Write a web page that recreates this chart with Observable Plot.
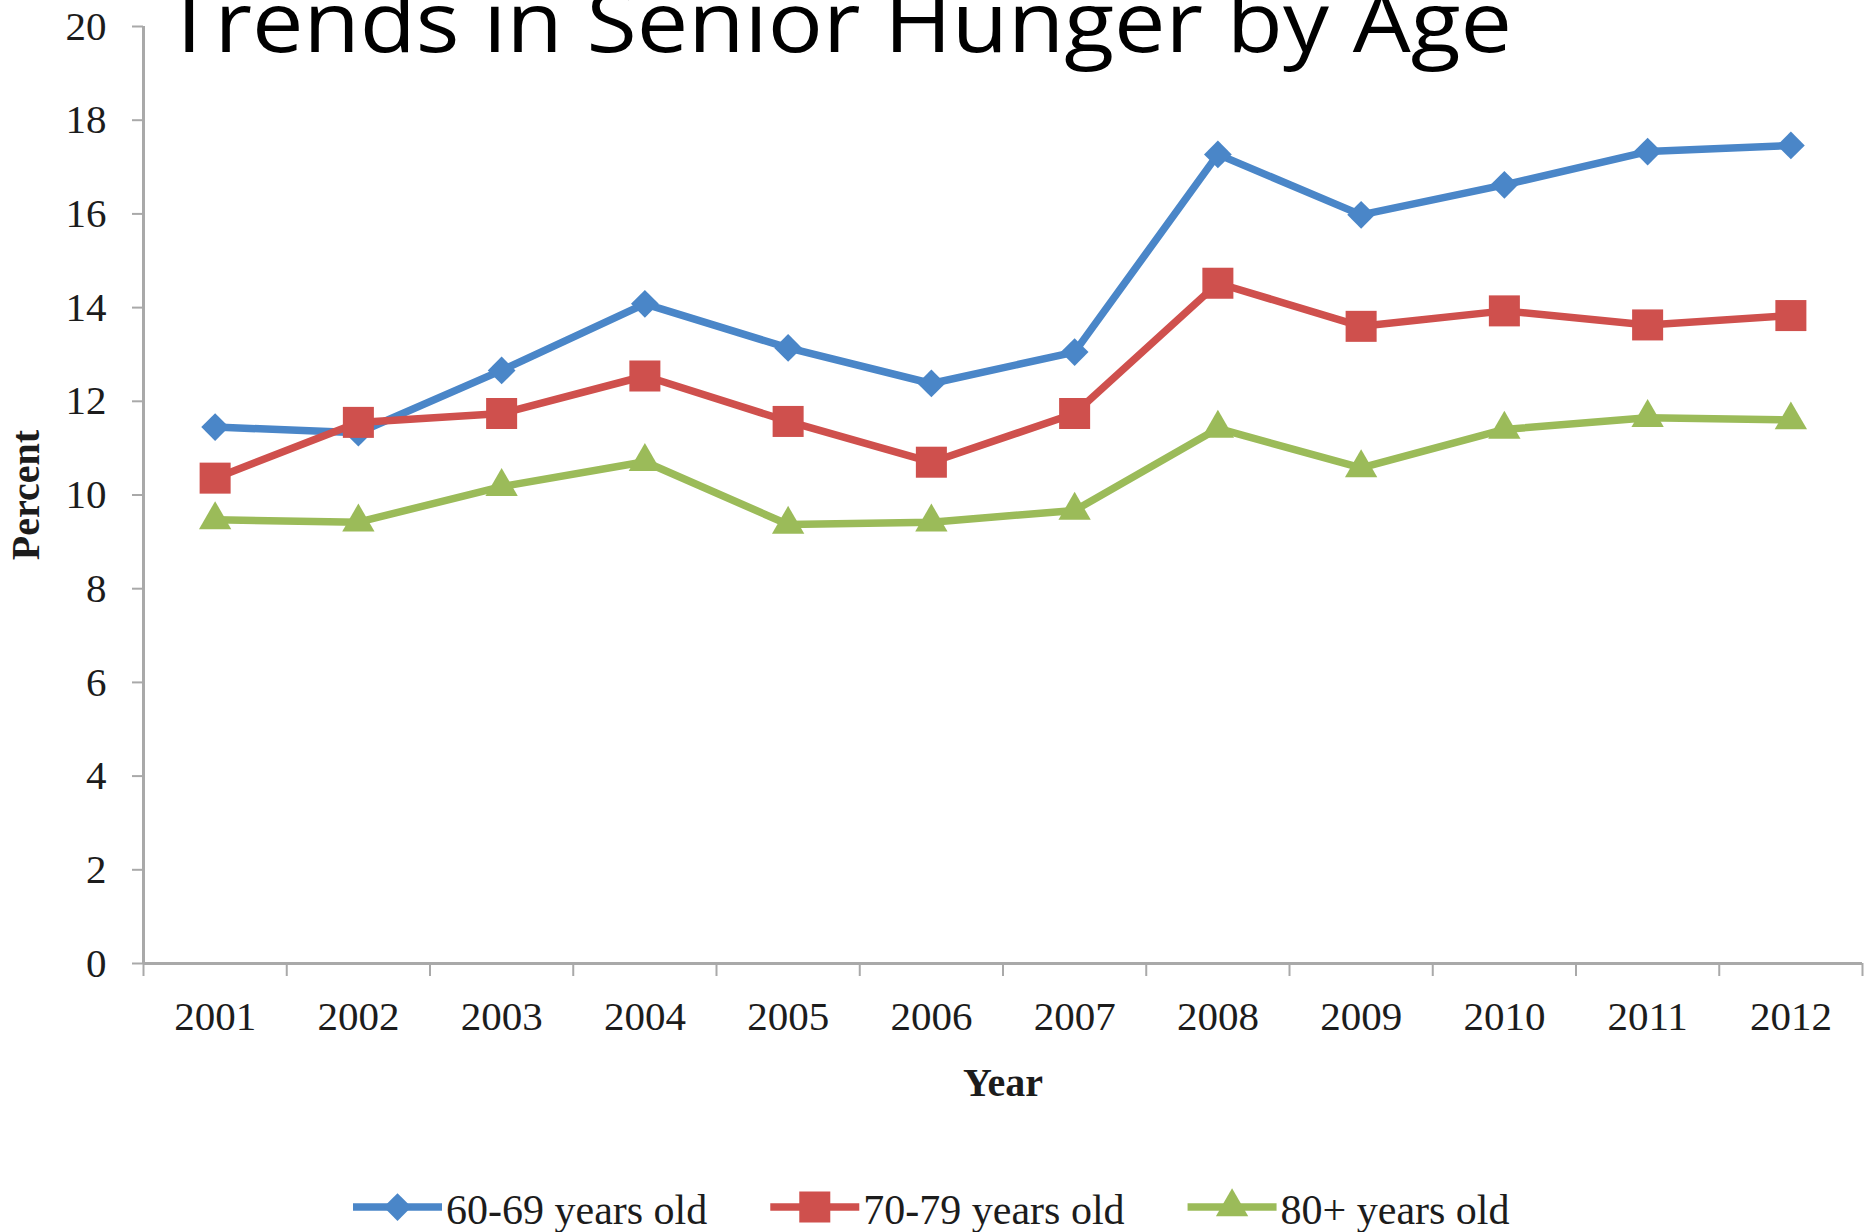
<!DOCTYPE html>
<html><head><meta charset="utf-8">
<script src="https://cdn.jsdelivr.net/npm/d3@7"></script>
<script src="https://cdn.jsdelivr.net/npm/@observablehq/plot@0.6"></script>
<style>
html,body{margin:0;padding:0;background:#fff;}
#wrap{position:relative;width:1864px;height:1232px;overflow:hidden;background:#fff;}
#wrap svg{position:absolute;left:0;top:0;}
</style></head><body><div id="wrap"></div>
<script>
const title = "Trends in Senior Hunger by Age";
const years = [2001,2002,2003,2004,2005,2006,2007,2008,2009,2010,2011,2012];
const series = ["60-69 years old","70-79 years old","80+ years old"];
const colors = ["#4A86C8","#CF504D","#9BBB59"];
const symbols = ["diamond2","square","triangle"];
const symbolR = [12.5,17.5,12];
const v6069 = [11.45,11.33,12.66,14.08,13.14,12.38,13.05,17.27,15.98,16.62,17.33,17.46];
const v7079 = [10.36,11.55,11.74,12.54,11.57,10.70,11.74,14.52,13.60,13.93,13.63,13.83];
const v80   = [9.47,9.42,10.18,10.71,9.37,9.42,9.67,11.42,10.58,11.40,11.65,11.60];
const yTicks = [0,2,4,6,8,10,12,14,16,18,20];
const xLabel = "Year";
const yLabel = "Percent";

const values = [v6069, v7079, v80];
const data = series.flatMap((s,i)=> years.map((yr,j)=>({year:yr, value:values[i][j], series:s})));
const bounds = [...years.map(y=>y-0.5), years[years.length-1]+0.5];
const axisGray = "#a9a9a9";
const textColor = "#1c1c1c";

const plot = Plot.plot({
  width:1864, height:1232,
  marginLeft:143, marginRight:2, marginTop:26, marginBottom:269,
  x:{type:"linear", domain:[bounds[0], bounds[bounds.length-1]]},
  y:{domain:[0,20]},
  style:{fontFamily:"'Liberation Serif', 'Times New Roman', serif", background:"#fff", color:textColor},
  marks:[
    Plot.axisY({ticks:yTicks, tickSize:11, tickPadding:26, fontSize:41, stroke:axisGray, strokeWidth:2, fill:textColor, label:null, tickFormat:d=>String(d)}),
    Plot.axisX({ticks:bounds, tickSize:13, tickFormat:()=>"", stroke:axisGray, strokeWidth:2, label:null}),
    Plot.axisX({ticks:years, tickSize:0, tickPadding:37, fontSize:41, fill:textColor, tickFormat:d=>String(d), label:null}),
    Plot.ruleY([0],{stroke:axisGray, strokeWidth:3}),
    Plot.ruleX([bounds[0]],{stroke:axisGray, strokeWidth:3}),
    Plot.text([yLabel],{frameAnchor:"left", textAnchor:"middle", lineAnchor:"middle", rotate:-90, dx:-117, fontSize:40, fontWeight:"bold", fill:textColor, text:d=>d}),
    Plot.text([xLabel],{frameAnchor:"bottom", textAnchor:"middle", lineAnchor:"middle", dy:120, fontSize:40, fontWeight:"bold", fill:textColor, text:d=>d}),
    ...series.map((s,i)=>Plot.line(data.filter(d=>d.series===s),{x:"year", y:"value", stroke:colors[i], strokeWidth:7.5})),
    ...series.map((s,i)=>Plot.dot(data.filter(d=>d.series===s),{x:"year", y:"value", fill:colors[i], symbol:symbols[i], r:symbolR[i], stroke:"none"}))
  ]
});
document.getElementById("wrap").appendChild(plot);

// overlay: title and legend
const ov = d3.select("#wrap").append("svg").attr("width",1864).attr("height",1232).style("pointer-events","none");
ov.append("text").attr("x",164).attr("y",52)
  .attr("font-family","'Open Sans', 'Noto Sans', sans-serif").attr("font-size",85)
  .attr("textLength",1348).attr("lengthAdjust","spacingAndGlyphs")
  .attr("fill","#000").text(title);

const legY = 1207, swW = 89;
let lx = 353;
const symMap = {diamond2:d3.symbolDiamond2, square:d3.symbolSquare, triangle:d3.symbolTriangle};
series.forEach((s,i)=>{
  const g = ov.append("g");
  g.append("line").attr("x1",lx).attr("x2",lx+swW).attr("y1",legY).attr("y2",legY)
    .attr("stroke",colors[i]).attr("stroke-width",7.5);
  g.append("path").attr("d",d3.symbol(symMap[symbols[i]], Math.PI*symbolR[i]*symbolR[i])())
    .attr("transform",`translate(${lx+swW/2},${legY})`).attr("fill",colors[i]);
  const t = g.append("text").attr("x",lx+swW+4).attr("y",legY+17)
    .attr("font-family","'Liberation Serif', serif").attr("font-size",42).attr("fill",textColor).text(s);
  lx = lx + swW + 4 + t.node().getComputedTextLength() + 63;
});
</script></body></html>
